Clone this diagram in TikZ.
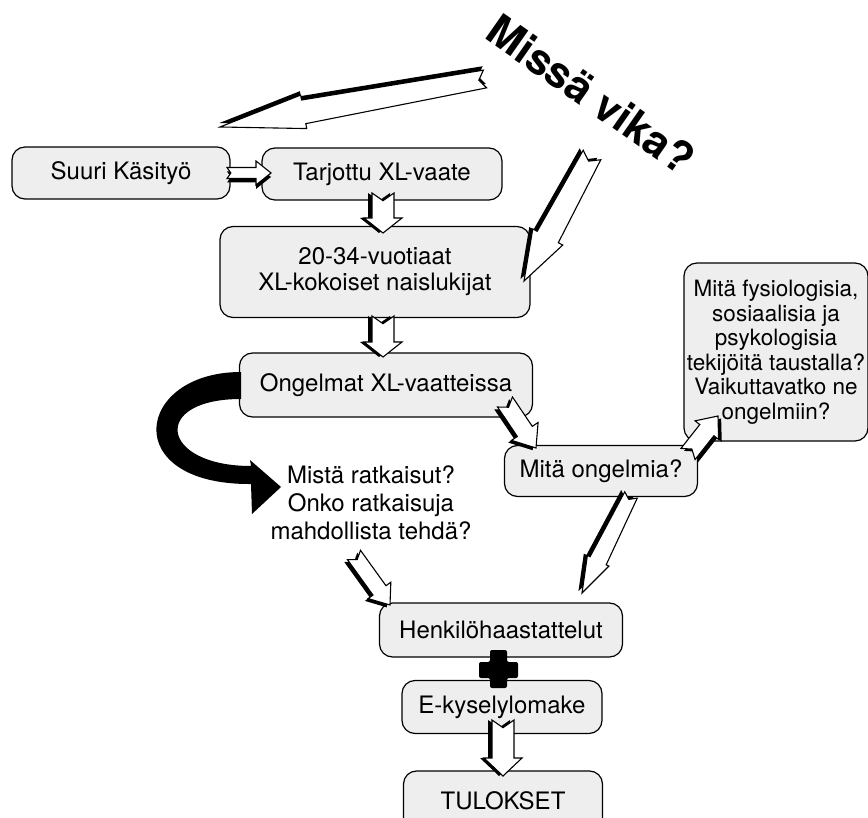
\documentclass[tikz,border=0pt]{standalone}
\usepackage{fontspec}
\setmainfont{TeX Gyre Heros}
\usepackage{tikz}
\usetikzlibrary{calc}

\definecolor{boxgray}{HTML}{EEEEEE}

\tikzset{
  flowbox/.style={draw, fill=boxgray, line width=1.2pt, rounded corners=13pt,
    inner sep=0pt, align=center, font=\fontsize{24}{26}\selectfont},
  arrowline/.style={draw, fill=white, line width=1.1pt, line join=miter},
}

% block arrow with a dark side: from, to, tail half width, neck half width, head half width, head length
\newcommand\blockarrow[6]{%
  \pgfpointdiff{\pgfpointanchor{#1}{center}}{\pgfpointanchor{#2}{center}}%
  \pgfgetlastxy\bdx\bdy
  \pgfmathsetmacro\blen{veclen(\bdx,\bdy)}%
  \pgfmathsetmacro\bang{atan2(\bdy,\bdx)}%
  \begin{scope}[shift={(#1)},rotate=\bang]
    \fill[black,yshift=-4pt] (0,#3) -- (\blen-#6,#4) -- (\blen-#6,#5) -- (\blen,0)
      -- (\blen-#6,-#5) -- (\blen-#6,-#4) -- (0,-#3) -- (0.7*#3,0) -- cycle;
    \draw[arrowline] (0,#3) -- (\blen-#6,#4) -- (\blen-#6,#5) -- (\blen,0)
      -- (\blen-#6,-#5) -- (\blen-#6,-#4) -- (0,-#3) -- (0.7*#3,0) -- cycle;
  \end{scope}}

\begin{document}
\begin{tikzpicture}[x=1pt,y=1pt]
\useasboundingbox (0,0) rectangle (868,-818);

% boxes
\node[flowbox, minimum width=218pt, minimum height=52pt] (suuri) at (121,-173) {Suuri Käsityö};
\node[flowbox, minimum width=240pt, minimum height=52pt] (tarjottu) at (382,-174) {Tarjottu XL-vaate};
\node[flowbox, minimum width=310pt, minimum height=91pt] (lukijat) at (375,-272) {20-34-vuotiaat\\XL-kokoiset naislukijat};
\node[flowbox, minimum width=293pt, minimum height=64pt] (ongelmat) at (386,-385) {Ongelmat XL-vaatteissa};
\node[flowbox, minimum width=193pt, minimum height=51pt] (mitaong) at (601,-471) {Mitä ongelmia?};
\node[flowbox, minimum width=184pt, minimum height=178pt, font=\fontsize{22.5}{24.5}\selectfont] (tekijat) at (776,-352)
  {Mitä fysiologisia,\\sosiaalisia ja\\psykologisia\\tekijöitä taustalla?\\Vaikuttavatko ne\\ongelmiin?};
\node[align=center, font=\fontsize{24}{28}\selectfont] (ratkaisut) at (371,-503)
  {Mistä ratkaisut?\\Onko ratkaisuja\\mahdollista tehdä?};
\node[flowbox, minimum width=243pt, minimum height=54pt] (henkilo) at (501,-630) {Henkilöhaastattelut};
\node[flowbox, minimum width=200pt, minimum height=53pt] (kysely) at (502,-707) {E-kyselylomake};
\node[flowbox, minimum width=199pt, minimum height=60pt] (tulokset) at (503,-801) {TULOKSET};

\node[rotate=-35, font=\fontsize{43}{43}\selectfont\bfseries] (vika) at (591,-94) {Missä vika?};

% curved black arrow
\coordinate (bandA) at (241,-372);
\coordinate (bandB) at (281,-487);
\fill (bandA) .. controls (135,-372) and (118,-485) .. (251,-484) -- (252,-514) -- (bandB)
  -- (250,-460) -- (251,-466) .. controls (160,-466) and (150,-399) .. (241,-399) -- cycle;

% plus
\fill[rounded corners=2pt] (490,-650) -- (507,-650) -- (507,-662) -- (518,-662) -- (518,-678)
  -- (507,-678) -- (507,-688) -- (490,-688) -- (490,-678) -- (479,-678) -- (479,-662)
  -- (490,-662) -- cycle;

% arrow ends
\coordinate (v1) at (485,-79);   \coordinate (v1e) at (220,-127);
\coordinate (v2) at (592,-155);  \coordinate (v2e) at (524,-281);
\coordinate (s1) at (227,-173);  \coordinate (s1e) at (271,-173);
\coordinate (t1) at (383,-193);  \coordinate (t1e) at (383,-233);
\coordinate (l1) at (383,-316);  \coordinate (l1e) at (383,-357);
\coordinate (o1) at (505,-402);  \coordinate (o1e) at (536,-448);
\coordinate (m1) at (688,-454);  \coordinate (m1e) at (718,-416);
\coordinate (m2) at (631,-495);  \coordinate (m2e) at (582,-593);
\coordinate (r1) at (354,-555);  \coordinate (r1e) at (390,-605);
\coordinate (k1) at (503,-720);  \coordinate (k1e) at (503,-776);

\blockarrow{v1}{v1e}{9}{12}{17}{85}
\blockarrow{v2}{v2e}{10}{12}{17}{50}
\blockarrow{s1}{s1e}{5.5}{5.5}{12}{15}
\blockarrow{t1}{t1e}{11}{11}{19}{15}
\blockarrow{l1}{l1e}{11}{11}{19}{15}
\blockarrow{o1}{o1e}{9}{9}{16}{20}
\blockarrow{m1}{m1e}{9}{9}{15}{18}
\blockarrow{m2}{m2e}{7}{9}{12}{36}
\blockarrow{r1}{r1e}{8}{8}{14}{18}
\blockarrow{k1}{k1e}{11}{11}{19}{18}
\end{tikzpicture}
\end{document}
